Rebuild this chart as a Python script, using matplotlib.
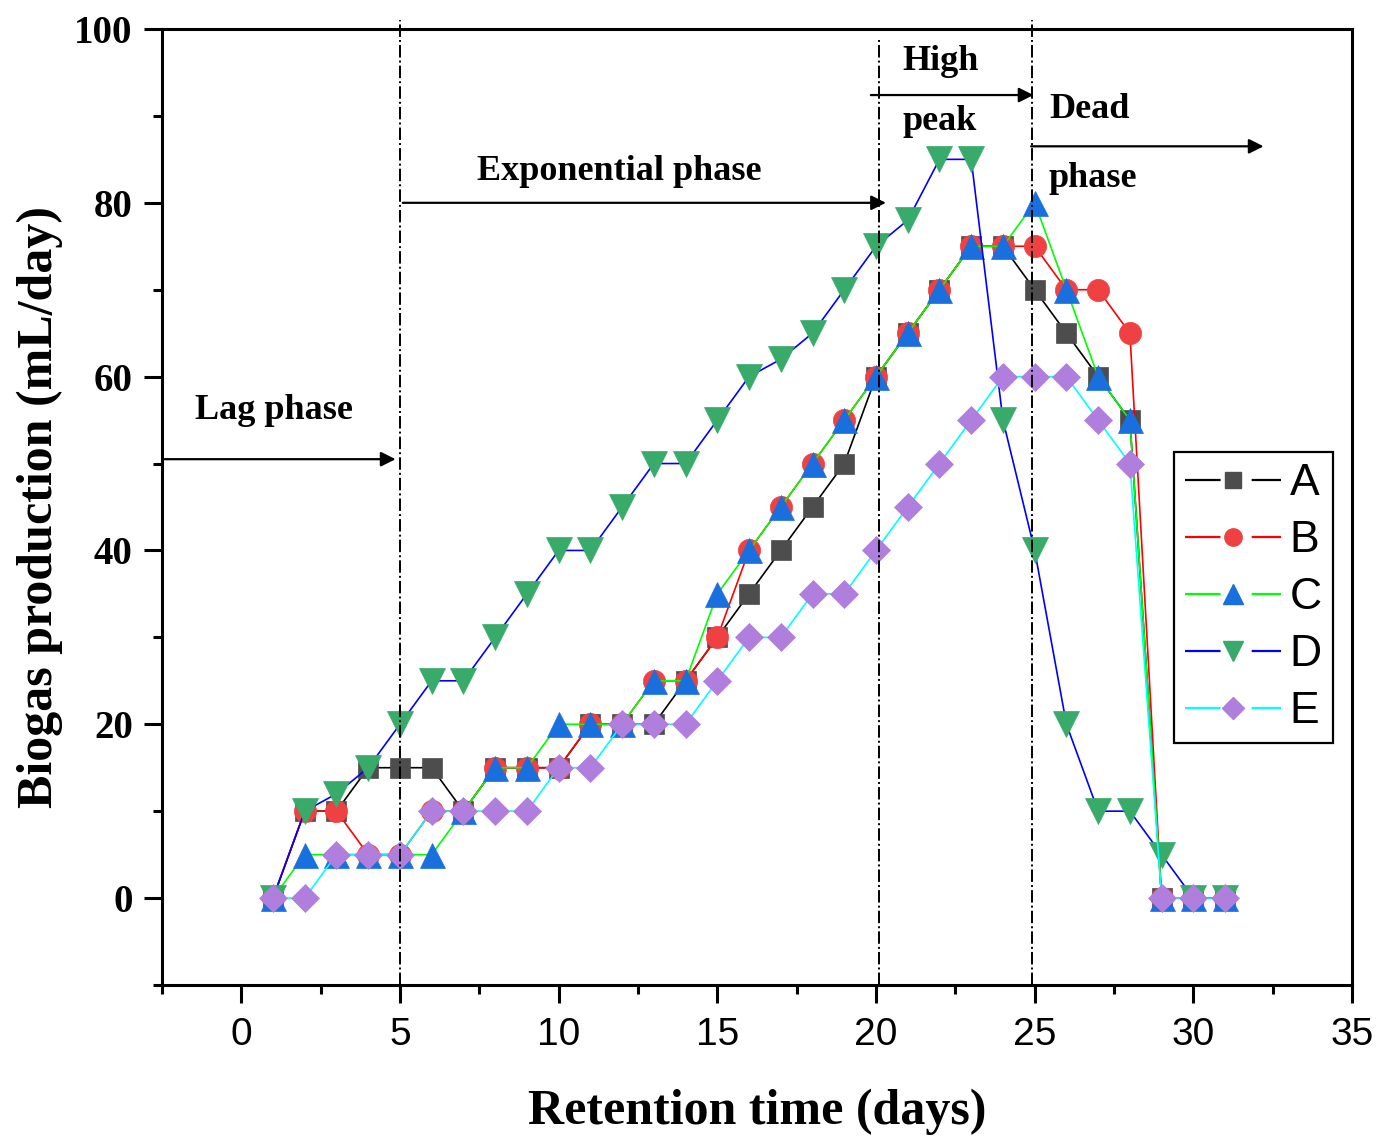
import matplotlib
matplotlib.use('Agg')
import matplotlib.pyplot as plt
from matplotlib.lines import Line2D
from matplotlib.legend_handler import HandlerTuple
from matplotlib.ticker import MultipleLocator

days = list(range(1, 32))
series_a = [0, 10, 10, 15, 15, 15, 10, 15, 15, 15, 20, 20, 20, 25, 30, 35, 40, 45, 50, 60,
            65, 70, 75, 75, 70, 65, 60, 55, 0, 0, 0]
series_b = [0, 10, 10, 5, 5, 10, 10, 15, 15, 15, 20, 20, 25, 25, 30, 40, 45, 50, 55, 60,
            65, 70, 75, 75, 75, 70, 70, 65, 0, 0, 0]
series_c = [0, 5, 5, 5, 5, 5, 10, 15, 15, 20, 20, 20, 25, 25, 35, 40, 45, 50, 55, 60,
            65, 70, 75, 75, 80, 70, 60, 55, 0, 0, 0]
series_d = [0, 10, 12, 15, 20, 25, 25, 30, 35, 40, 40, 45, 50, 50, 55, 60, 62, 65, 70, 75,
            78, 85, 85, 55, 40, 20, 10, 10, 5, 0, 0]
series_e = [0, 0, 5, 5, 5, 10, 10, 10, 10, 15, 15, 20, 20, 20, 25, 30, 30, 35, 35, 40,
            45, 50, 55, 60, 60, 60, 55, 50, 0, 0, 0]
labels = ['A', 'B', 'C', 'D', 'E']

phase_lines = [5, 20.1, 24.9]

serif = 'Liberation Serif'
sans = 'Liberation Sans'

# (line colour, marker, marker colour, marker size)
styles = [
    ('black', 's', '#4d4d4d', 15),
    ('red', 'o', '#ef4141', 16),
    ('#00ff00', '^', '#1a6fdf', 18),
    ('blue', 'v', '#38aa6a', 19),
    ('cyan', 'D', '#b07edc', 14),
]

fig = plt.figure(figsize=(13.9, 11.37), dpi=100)
ax = fig.add_axes([0.1165, 0.1337, 0.8562, 0.8408])

all_series = [series_a, series_b, series_c, series_d, series_e]
handles = []
for vals, lab, (lc, mk, mc, ms) in zip(all_series, labels, styles):
    ax.plot(days, vals, color=lc, lw=1.2, marker=mk, markersize=ms,
            markerfacecolor=mc, markeredgecolor=mc, markeredgewidth=0.5)
    # legend: line broken around the marker, like the original
    ln = Line2D([], [], color=lc, lw=1.6, linestyle=(0, (16, 14, 30)))
    mrk = Line2D([], [], linestyle='none', marker=mk, markersize=ms * 0.78,
                 markerfacecolor=mc, markeredgecolor=mc)
    handles.append((ln, mrk))

# phase boundaries
for xv in phase_lines:
    top = 99 if xv == 20.1 else 101
    ax.plot([xv, xv], [-10, top], color='black', lw=1.4, linestyle='-.', clip_on=False)

arrow = dict(arrowstyle='-|>', color='black', lw=1.6, mutation_scale=22)
ax.annotate('', xy=(4.95, 50.5), xytext=(-2.5, 50.5), arrowprops=arrow)
ax.annotate('', xy=(20.4, 80), xytext=(5, 80), arrowprops=arrow)
ax.annotate('', xy=(25.05, 92.4), xytext=(19.75, 92.4), arrowprops=arrow)
ax.annotate('', xy=(32.3, 86.5), xytext=(24.8, 86.5), arrowprops=arrow)

tfont = dict(family=serif, fontweight='bold', fontsize=26, ha='left', va='baseline')
ax.text(-1.45, 55.1, 'Lag phase', **tfont)
ax.text(7.43, 82.6, 'Exponential phase', **tfont)
ax.text(20.83, 95.3, 'High', **tfont)
ax.text(20.83, 88.4, 'peak', **tfont)
ax.text(25.45, 89.8, 'Dead', **tfont)
ax.text(25.45, 81.8, 'phase', **tfont)

ax.set_xlim(-2.5, 35)
ax.set_ylim(-10, 100)
ax.xaxis.set_major_locator(MultipleLocator(5))
ax.xaxis.set_minor_locator(MultipleLocator(2.5))
ax.yaxis.set_major_locator(MultipleLocator(20))
ax.yaxis.set_minor_locator(MultipleLocator(10))
ax.set_yticks([0, 20, 40, 60, 80, 100])

for s in ax.spines.values():
    s.set_linewidth(2.2)
ax.tick_params(which='major', direction='out', length=13, width=2.2, top=False, right=False)
ax.tick_params(which='minor', direction='out', length=6.5, width=2.2, top=False, right=False)
ax.tick_params(axis='x', which='major', pad=10)
ax.tick_params(axis='y', which='major', pad=8)

for t in ax.get_xticklabels():
    t.set_fontfamily(sans)
    t.set_fontsize(28)
for t in ax.get_yticklabels():
    t.set_fontfamily(serif)
    t.set_fontweight('bold')
    t.set_fontsize(28)

ax.set_xlabel('Retention time (days)', family=serif, fontweight='bold', fontsize=36, labelpad=26)
ax.set_ylabel('Biogas production (mL/day)', family=serif, fontweight='bold', fontsize=36, labelpad=8)

leg = ax.legend(handles, labels, handler_map={tuple: HandlerTuple(ndivide=1, pad=0)},
                loc='upper right', bbox_to_anchor=(0.984, 0.5575), borderaxespad=0,
                prop={'family': sans, 'size': 32}, handlelength=2.15, handletextpad=0.2,
                labelspacing=0.36, borderpad=0.25, fancybox=False, framealpha=1,
                edgecolor='black')
leg.get_frame().set_linewidth(1.6)

fig.savefig('out.png', dpi=100)
